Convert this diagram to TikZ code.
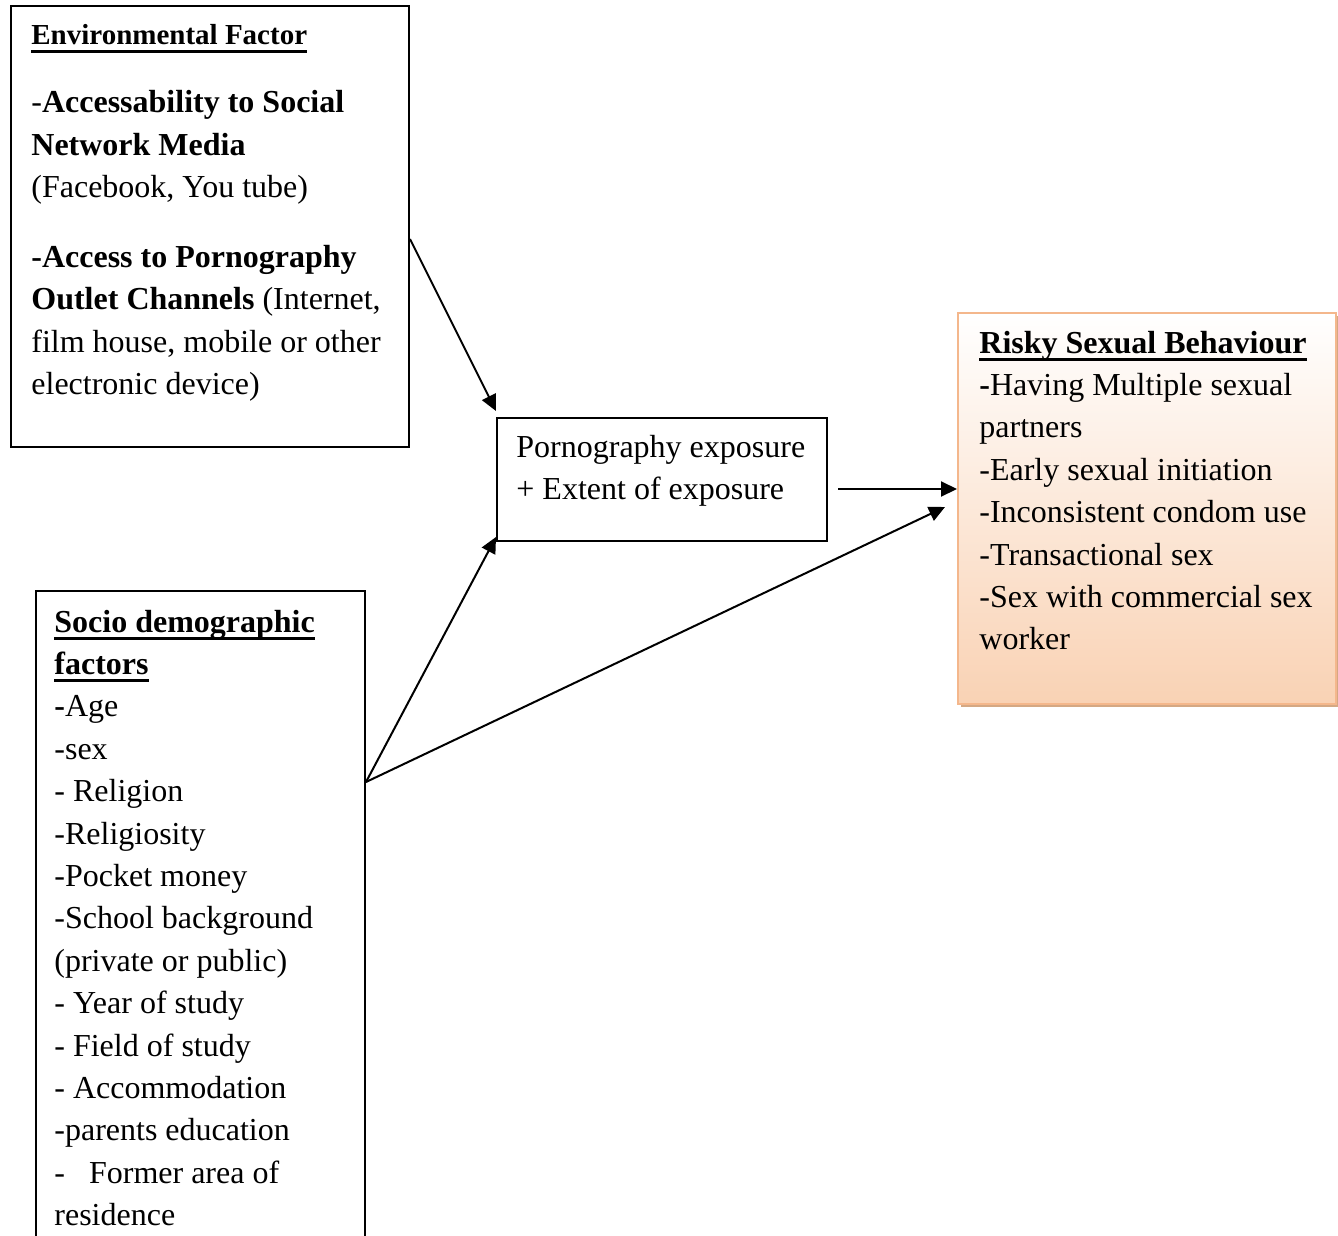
\documentclass[tikz,border=0pt]{standalone}
\usepackage{fontspec}
\setmainfont{Liberation Serif}
\usetikzlibrary{arrows.meta, shadows}

\definecolor{riskedge}{RGB}{244,183,140}
\definecolor{riskfill}{RGB}{249,210,180}
\definecolor{riskshadow}{RGB}{212,168,132}

\newsavebox{\titlebox}
\newcommand{\titleline}[1]{\sbox{\titlebox}{#1}\rlap{\rule[-3.8pt]{\wd\titlebox}{1.3pt}}\usebox{\titlebox}}
\newcommand{\boxfont}{\fontsize{16}{21.2}\selectfont}

\begin{document}
\begin{tikzpicture}[x=0.5pt, y=-0.5pt,
    factorbox/.style={draw, line width=1pt, anchor=north west, inner sep=0pt},
    boxtext/.style={anchor=base west, inner sep=0pt, align=left},
    link/.style={-{Triangle[length=8pt, width=7.5pt]}, line width=1pt}]
    \useasboundingbox (0,0) rectangle (1338,1236);

    % Nodes
    \node[factorbox, minimum width=199pt, minimum height=220.5pt] (Env) at (10,5) {};
    \node[factorbox, minimum width=165pt, minimum height=61.5pt] (Exposure) at (496,417) {};
    \node[factorbox, draw=riskedge, top color=white, bottom color=riskfill,
          drop shadow={shadow xshift=1.5pt, shadow yshift=-1.5pt, fill=riskshadow, opacity=1},
          minimum width=189pt, minimum height=195.5pt] (Risky) at (957,312) {};
    \node[factorbox, minimum width=164.5pt, minimum height=340pt] (Socio) at (35,590) {};

    \node[boxtext] (EnvText) at ([shift={(21,40)}]Env.north west) {\parbox[t]{195pt}{\raggedright\boxfont
        {\fontsize{14.5}{21.2}\selectfont\textbf{\titleline{Environmental Factor}}}\\[12.8pt]
        -\textbf{Accessability to Social}\\
        \textbf{Network Media}\\
        (Facebook, You tube)\\[13.6pt]
        \textbf{-Access to Pornography}\\
        \textbf{Outlet Channels} (Internet,\\
        film house, mobile or other\\
        electronic device)}};
    \node[boxtext] (ExposureText) at ([shift={(20,40)}]Exposure.north west) {\parbox[t]{160pt}{\raggedright\boxfont
        Pornography exposure\\
        + Extent of exposure}};
    \node[boxtext] (RiskyText) at ([shift={(22,41)}]Risky.north west) {\parbox[t]{185pt}{\raggedright\boxfont
        \textbf{\titleline{Risky Sexual Behaviour}}\\
        \textbf{-}Having Multiple sexual\\
        partners\\
        -Early sexual initiation\\
        -Inconsistent condom use\\
        -Transactional sex\\
        -Sex with commercial sex\\
        worker}};
    \node[boxtext] (SocioText) at ([shift={(19,42)}]Socio.north west) {\parbox[t]{160pt}{\raggedright\boxfont
        \textbf{\titleline{Socio demographic}}\\
        \textbf{\titleline{factors}}\\
        \textbf{-}Age\\
        -sex\\
        - Religion\\
        -Religiosity\\
        -Pocket money\\
        -School background\\
        (private or public)\\
        - Year of study\\
        - Field of study\\
        - Accommodation\\
        -parents education\\
        -\hspace{12pt}Former area of\\
        residence}};

    \coordinate (SocioOut) at ([yshift=-96pt]Socio.north east);
    \coordinate (ExposureOut) at ([shift={(5pt,-4.75pt)}]Exposure.east);

    % Paths
    \draw[link] ([yshift=-6.25pt]Env.east) -- ([yshift=3pt]Exposure.north west);
    \draw[link] (SocioOut) -- ([yshift=2.5pt]Exposure.south west);
    \draw[link] (SocioOut) -- ([shift={(-6pt,0.75pt)}]Risky.west);
    \draw[link] (ExposureOut) -- (ExposureOut -| Risky.west);
\end{tikzpicture}
\end{document}
